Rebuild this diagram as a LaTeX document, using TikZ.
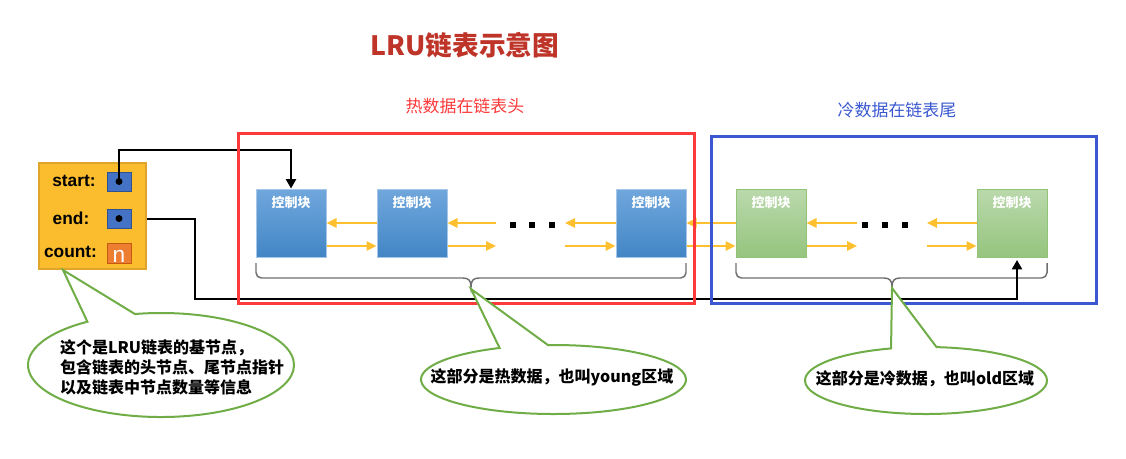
\documentclass[tikz,border=0pt]{standalone}
\usepackage{fontspec}
\setmainfont{Noto Sans CJK SC}
\newfontfamily\lat{Liberation Sans}
\usetikzlibrary{arrows.meta,calc}
\definecolor{titlered}{RGB}{190,52,40}
\definecolor{hotred}{RGB}{252,58,58}
\definecolor{coldblue}{RGB}{58,88,208}
\definecolor{baseor}{RGB}{251,189,46}
\definecolor{baseedge}{RGB}{222,165,40}
\definecolor{ptrblue}{RGB}{68,114,196}
\definecolor{ptredge}{RGB}{47,82,143}
\definecolor{cntor}{RGB}{237,125,49}
\definecolor{cntedge}{RGB}{197,90,17}
\definecolor{blutop}{RGB}{112,167,220}
\definecolor{blubot}{RGB}{66,134,198}
\definecolor{bluedge}{RGB}{165,198,232}
\definecolor{grntop}{RGB}{186,217,172}
\definecolor{grnbot}{RGB}{150,196,126}
\definecolor{grnedge}{RGB}{145,195,118}
\definecolor{arrowyel}{RGB}{255,192,48}
\definecolor{bracegray}{RGB}{110,110,110}
\definecolor{callgreen}{RGB}{112,173,71}
\begin{document}
\begin{tikzpicture}[x=0.75pt,y=-0.75pt,
  blueblock/.style={draw=bluedge,line width=0.75pt,top color=blutop,bottom color=blubot,minimum width=52.5pt,minimum height=51pt,inner sep=0pt},
  greenblock/.style={draw=grnedge,line width=0.75pt,top color=grntop,bottom color=grnbot,minimum width=52.5pt,minimum height=51pt,inner sep=0pt},
  blocktxt/.style={text=white,font=\bfseries\fontsize{9.75}{11}\selectfont,inner sep=0pt},
  yarr/.style={draw=arrowyel,line width=1.5pt,-{Triangle[length=7.5pt,width=7pt]}},
  ptrline/.style={draw=black,line width=1.5pt,-{Triangle[length=7pt,width=7.5pt]}},
  dotsq/.style={fill=black,minimum size=4.5pt,inner sep=0pt},
  brc/.style={draw=bracegray,line width=1.1pt},
  callout/.style={draw=callgreen,line width=1.5pt,fill=white},
  calltxt/.style={font=\bfseries\fontsize{12}{15}\selectfont,inner sep=0pt},
  baselbl/.style={font=\lat\bfseries\fontsize{13}{15}\selectfont,inner sep=0pt},
  ptrsq/.style={fill=ptrblue,draw=ptredge,line width=0.75pt,minimum width=18pt,minimum height=14.25pt,inner sep=0pt},
  cntsq/.style={fill=cntor,draw=cntedge,line width=0.75pt,minimum width=18pt,minimum height=15pt,inner sep=0pt},
  regionbox/.style={line width=2.25pt,inner sep=0pt}
]
\useasboundingbox (0,0) rectangle (1126,458);

% title and region captions
\node[text=titlered,font=\bfseries\fontsize{20}{22}\selectfont] (title) at (465,45) {LRU链表示意图};
\node[text=hotred,font=\fontsize{12.7}{14}\selectfont] (hotlbl) at (465,106) {热数据在链表头};
\node[text=coldblue,font=\fontsize{12.7}{14}\selectfont] (coldlbl) at (897,110) {冷数据在链表尾};

% base node
\node[draw=baseedge,fill=baseor,line width=1pt,minimum width=80.25pt,minimum height=79.5pt,inner sep=0pt] (base) at (92.5,216) {};
\node[baselbl] (lstart) at (74,181) {start:};
\node[baselbl] (lend) at (71,218) {end:};
\node[baselbl] (lcount) at (70.5,252) {count:};
\node[ptrsq] (sq1) at (119,181.5) {};
\node[ptrsq] (sq2) at (119,218.5) {};
\node[cntsq] (sq3) at (119,253) {};
\node[text=white,font=\lat\fontsize{17}{17}\selectfont,anchor=base,inner sep=0pt] (nlbl) at (119,262) {n};
\fill (sq1.center) circle (2.6pt);
\fill (sq2.center) circle (2.6pt);

% blocks
\node[blueblock] (b1) at (291,223) {};
\node[blueblock] (b2) at (412,223) {};
\node[blueblock] (b3) at (651,223) {};
\node[greenblock] (b4) at (771,223) {};
\node[greenblock] (b5) at (1012,223) {};
\foreach \b in {b1,b2,b3,b4,b5}{
  \node[blocktxt] (\b t) at ($(\b.north)+(0,14)$) {控制块};
}

% dots
\coordinate (d1l) at (496,223);
\coordinate (d1r) at (565,223);
\coordinate (d2l) at (857,223);
\coordinate (d2r) at (927,223);
\node[dotsq] (d1a) at (513,225) {};
\node[dotsq] (d1b) at (532,225) {};
\node[dotsq] (d1c) at (552,225) {};
\node[dotsq] (d2a) at (865,225) {};
\node[dotsq] (d2b) at (885,225) {};
\node[dotsq] (d2c) at (905,225) {};

% links
\draw[yarr] (b2.west) -- (b1.east);
\draw[yarr] ($(b1.east)+(0,23)$) -- ($(b2.west)+(0,23)$);
\draw[yarr] (d1l) -- (b2.east);
\draw[yarr] ($(b2.east)+(0,23)$) -- ($(d1l)+(0,23)$);
\draw[yarr] (b3.west) -- (d1r);
\draw[yarr] ($(d1r)+(0,23)$) -- ($(b3.west)+(0,23)$);
\draw[yarr] (b4.west) -- (b3.east);
\draw[yarr] ($(b3.east)+(0,23)$) -- ($(b4.west)+(0,23)$);
\draw[yarr] (d2l) -- (b4.east);
\draw[yarr] ($(b4.east)+(0,23)$) -- ($(d2l)+(0,23)$);
\draw[yarr] (b5.west) -- (d2r);
\draw[yarr] ($(d2r)+(0,23)$) -- ($(b5.west)+(0,23)$);

% braces
\draw[brc,rounded corners=4pt] (256,263) -- (256,278) -- (463,278);
\draw[brc] (463,278) .. controls (469,278) and (471,281) .. (471,287) .. controls (471,281) and (473,278) .. (479,278);
\draw[brc,rounded corners=4pt] (479,278) -- (686,278) -- (686,263);
\draw[brc,rounded corners=4pt] (736,263) -- (736,278) -- (884,278);
\draw[brc] (884,278) .. controls (890,278) and (892,281) .. (892,287) .. controls (892,281) and (894,278) .. (900,278);
\draw[brc,rounded corners=4pt] (900,278) -- (1047,278) -- (1047,263);

% pointers
\coordinate (endtip) at (1017,260);
\draw[ptrline] (sq1.center) -- ++(0,-32) -| (b1.north);
\draw[ptrline] (base.east |- sq2.center) -- ++(48,0) |- (endtip |- 0,299) -- (endtip);

% regions
\node[regionbox,draw=hotred,minimum width=342pt,minimum height=127.5pt] (hot) at (466,218) {};
\node[regionbox,draw=coldblue,minimum width=288.75pt,minimum height=125.25pt] (cold) at (903.5,219.5) {};

% callouts
\coordinate (basetip) at (63,270);
\coordinate (hottip) at (471,289);
\coordinate (coldtip) at (892,288);
\draw[callout] (161,365) ++(258.7:133 and 52) arc[start angle=258.7,end angle=596.4,x radius=133,y radius=52] -- (basetip) -- cycle;
\draw[callout] (553.5,379.5) ++(267.6:132.5 and 34.5) arc[start angle=267.6,end angle=606,x radius=132.5,y radius=34.5] -- (hottip) -- cycle;
\draw[callout] (926,380.5) ++(275:121 and 33.5) arc[start angle=275,end angle=613.2,x radius=121,y radius=33.5] -- (coldtip) -- cycle;
\node[calltxt,align=left] (t1) at (172,367) {这个是LRU链表的基节点，\\包含链表的头节点、尾节点指针\\以及链表中节点数量等信息};
\node[calltxt] (t2) at (552,377) {这部分是热数据，也叫young区域};
\node[calltxt] (t3) at (925,379) {这部分是冷数据，也叫old区域};
\end{tikzpicture}
\end{document}
